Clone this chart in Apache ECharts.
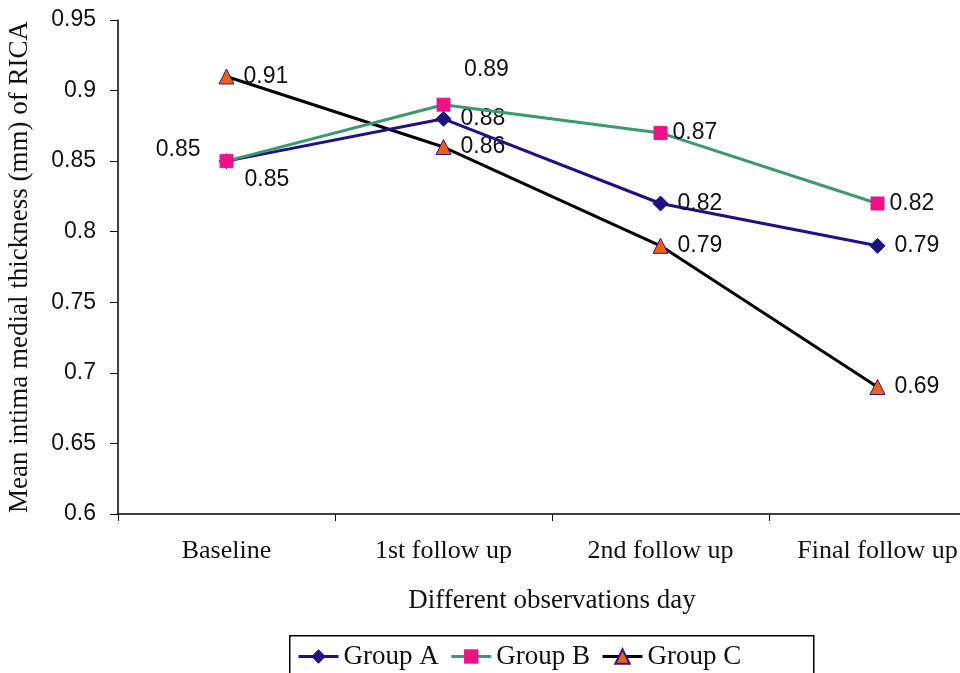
<!DOCTYPE html>
<html>
<head>
<meta charset="utf-8">
<script src="https://cdn.jsdelivr.net/npm/echarts@6/dist/echarts.min.js"></script>
<style>html,body{margin:0;padding:0;background:#fff;}#c{width:960px;height:673px;}</style>
</head>
<body>
<div id="c"></div>
<script>
const categories = ['Baseline', '1st follow up', '2nd follow up', 'Final follow up'];
const groupA = [0.85, 0.88, 0.82, 0.79];
const groupB = [0.85, 0.89, 0.87, 0.82];
const groupC = [0.91, 0.86, 0.79, 0.69];
const yTicks = { min: 0.6, max: 0.95, interval: 0.05 };

const serif = '"Liberation Serif", "Times New Roman", serif';
const sans = '"Liberation Sans", Arial, sans-serif';
const lbl = (dist) => ({ show: true, position: 'right', distance: dist, color: '#111', fontFamily: sans, fontSize: 23, formatter: p => p.value.toFixed(2) });

const dataA = groupA.map((v, i) => i === 0 ? { value: v, label: { position: 'right', distance: 10, offset: [0, 19] } } : v);
const dataB = groupB.map((v, i) => {
  if (i === 0) return { value: v, label: { position: 'left', distance: 19, offset: [0, -11] } };
  if (i === 1) return { value: v, label: { position: 'top', distance: 8, offset: [43, -9] } };
  return v;
});

const chart = echarts.init(document.getElementById('c'));
chart.setOption({
  animation: false,
  backgroundColor: '#fff',
  grid: { left: 118, top: 20, right: -26, bottom: 159, containLabel: false, outerBoundsMode: 'none' },
  xAxis: {
    type: 'category', data: categories, boundaryGap: true,
    axisLine: { lineStyle: { color: '#000', width: 1.5 } },
    axisTick: { show: true, length: 7, inside: false, lineStyle: { color: '#000' } },
    axisLabel: { margin: 24, color: '#111', fontFamily: serif, fontSize: 26 },
    name: 'Different observations day', nameLocation: 'middle', nameGap: 73,
    nameTextStyle: { color: '#111', fontFamily: serif, fontSize: 27 }
  },
  yAxis: {
    type: 'value', min: yTicks.min, max: yTicks.max, interval: yTicks.interval,
    axisLine: { show: true, lineStyle: { color: '#000', width: 1.5 } },
    axisTick: { show: true, length: 8, lineStyle: { color: '#000' } },
    splitLine: { show: false },
    axisLabel: { margin: 22, color: '#111', fontFamily: sans, fontSize: 23 },
    name: 'Mean intima medial thickness (mm) of RICA', nameLocation: 'middle', nameGap: 85, nameRotate: 90,
    nameTextStyle: { color: '#111', fontFamily: serif, fontSize: 27 }
  },
  graphic: [{
    type: 'rect', left: 289, top: 635, z: 0,
    shape: { width: 524, height: 44 },
    style: { fill: '#fff', stroke: '#000', lineWidth: 1.5 }
  }],
  legend: {
    left: 297, top: 643, padding: 0, itemGap: 11,
    itemWidth: 40, itemHeight: 18,
    lineStyle: { width: 3 },
    textStyle: { color: '#111', fontFamily: serif, fontSize: 27 },
    data: ['Group A', 'Group B', 'Group C'],
    z: 5
  },
  series: [
    {
      name: 'Group A', type: 'line', data: dataA,
      symbol: 'diamond', symbolSize: 15,
      lineStyle: { color: '#1c1283', width: 3 },
      itemStyle: { color: '#1c1283', borderColor: '#1c1283' },
      label: lbl(9),
      z: 3,
      emphasis: { disabled: true }
    },
    {
      name: 'Group B', type: 'line', data: dataB,
      symbol: 'rect', symbolSize: 13,
      lineStyle: { color: '#3a9a6e', width: 3 },
      itemStyle: { color: '#ee1289', borderColor: '#ee1289' },
      label: lbl(5),
      z: 4,
      emphasis: { disabled: true }
    },
    {
      name: 'Group C', type: 'line', data: groupC,
      symbol: 'triangle', symbolSize: 15,
      lineStyle: { color: '#000', width: 3 },
      itemStyle: { color: '#f0600f', borderColor: '#2a1a8a', borderWidth: 1 },
      label: lbl(9),
      z: 2,
      emphasis: { disabled: true }
    }
  ]
});
</script>
</body>
</html>
